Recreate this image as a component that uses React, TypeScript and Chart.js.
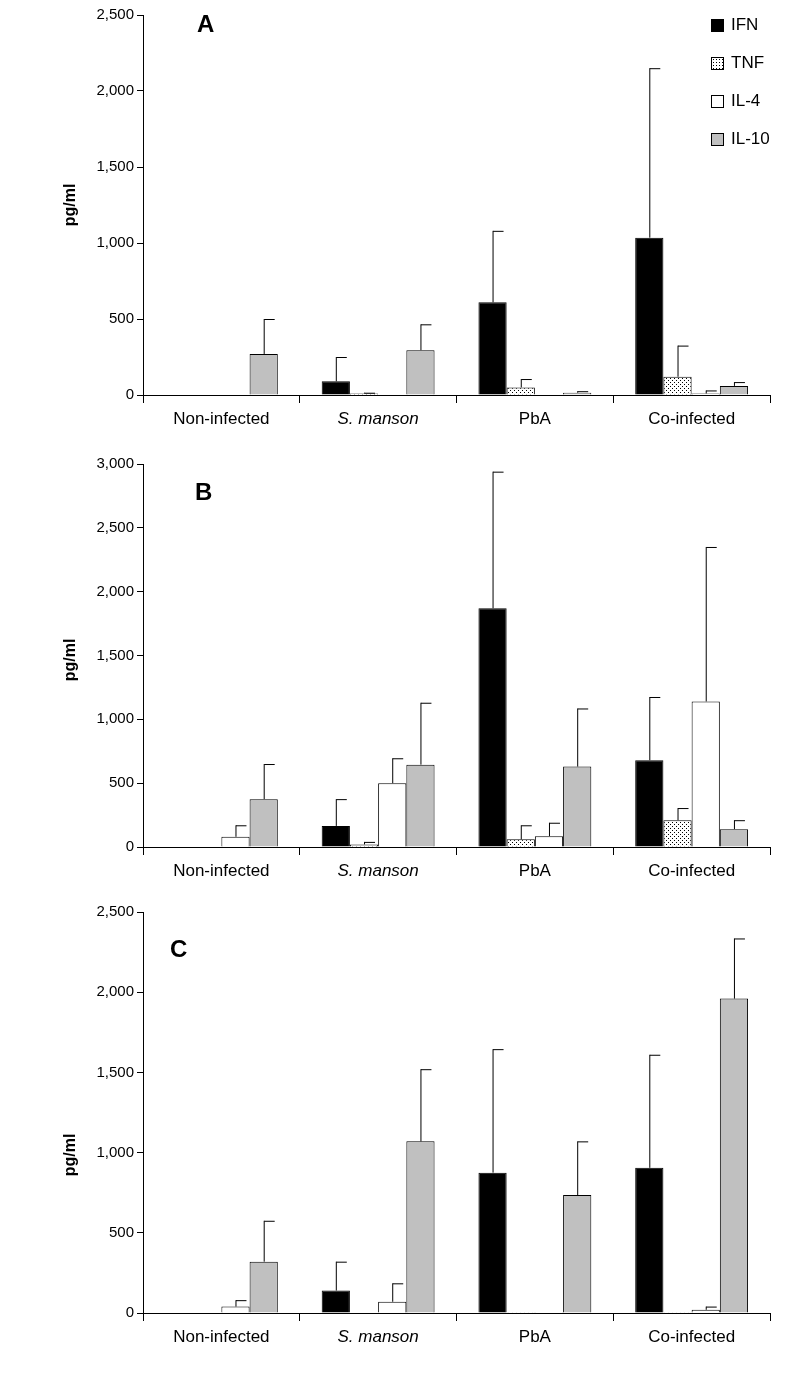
import React, { useEffect, useRef } from "react";
import { Chart, registerables } from "chart.js";
Chart.register(...registerables);

const categories = ["Non-infected", "S. manson", "PbA", "Co-infected"];
const seriesNames = ["IFN", "TNF", "IL-4", "IL-10"];

const A_IFN = [0, 90, 610, 1035];
const A_TNF = [0, 10, 50, 120];
const A_IL4 = [0, 0, 0, 10];
const A_IL10 = [270, 295, 15, 60];
const A_IFN_err = [0, 250, 1080, 2150];
const A_TNF_err = [0, 15, 105, 325];
const A_IL4_err = [0, 0, 0, 30];
const A_IL10_err = [500, 465, 25, 85];

const B_IFN = [0, 165, 1870, 680];
const B_TNF = [0, 20, 60, 210];
const B_IL4 = [80, 500, 85, 1140];
const B_IL10 = [375, 645, 630, 140];
const B_IFN_err = [0, 375, 2940, 1175];
const B_TNF_err = [0, 40, 170, 305];
const B_IL4_err = [170, 695, 190, 2350];
const B_IL10_err = [650, 1130, 1085, 210];

const C_IFN = [0, 140, 875, 905];
const C_TNF = [0, 0, 5, 5];
const C_IL4 = [40, 70, 5, 20];
const C_IL10 = [320, 1070, 735, 1960];
const C_IFN_err = [0, 320, 1645, 1610];
const C_TNF_err = [0, 0, 0, 0];
const C_IL4_err = [80, 185, 0, 40];
const C_IL10_err = [575, 1520, 1070, 2335];

const yTicksA = [0, 500, 1000, 1500, 2000, 2500];
const yTicksB = [0, 500, 1000, 1500, 2000, 2500, 3000];
const yTicksC = [0, 500, 1000, 1500, 2000, 2500];

function dotPattern(): CanvasPattern | string {
  const c = document.createElement("canvas");
  c.width = 4; c.height = 4;
  const g = c.getContext("2d");
  if (!g) return "#ddd";
  g.fillStyle = "#fff"; g.fillRect(0, 0, 4, 4);
  g.fillStyle = "#000"; g.fillRect(0, 0, 1, 1); g.fillRect(2, 2, 1, 1);
  return g.createPattern(c, "repeat") || "#ddd";
}

const errPlugin = {
  id: "errbars",
  afterDatasetsDraw(chart: any) {
    const ctx = chart.ctx;
    const ys = chart.scales.y;
    chart.data.datasets.forEach((ds: any, i: number) => {
      const meta = chart.getDatasetMeta(i);
      meta.data.forEach((bar: any, j: number) => {
        const e = ds.err[j];
        if (!e || e <= ds.data[j]) return;
        const yTop = ys.getPixelForValue(e);
        ctx.save();
        ctx.strokeStyle = "#000"; ctx.lineWidth = 1;
        ctx.beginPath();
        ctx.moveTo(bar.x + 0.5, bar.y);
        ctx.lineTo(bar.x + 0.5, yTop);
        ctx.moveTo(bar.x + 0.5, yTop + 0.5);
        ctx.lineTo(bar.x + 11, yTop + 0.5);
        ctx.stroke();
        ctx.restore();
      });
    });
  },
};

function Panel(props: { vals: number[][]; errs: number[][]; max: number; ticks: number[]; top: number; height: number; padTop: number; xH: number }) {
  const ref = useRef<HTMLCanvasElement>(null);
  useEffect(() => {
    const fills = ["#000", dotPattern(), "#fff", "#c0c0c0"];
    const chart = new Chart(ref.current!, {
      type: "bar",
      data: {
        labels: categories,
        datasets: seriesNames.map((n, i) => ({
          label: n,
          data: props.vals[i],
          err: props.errs[i],
          backgroundColor: fills[i],
          borderColor: "#000",
          borderWidth: 1,
          categoryPercentage: 0.72,
          barPercentage: 1,
        })) as any,
      },
      options: {
        animation: false,
        responsive: false,
        layout: { padding: { top: props.padTop, right: 33, left: 0, bottom: 0 } },
        plugins: { legend: { display: false }, tooltip: { enabled: false } },
        scales: {
          x: {
            grid: { offset: true, drawOnChartArea: false, color: "#000", tickLength: 8 },
            border: { color: "#000" },
            ticks: {
              color: "#000",
              padding: 6,
              font: (c: any) => ({ family: "Arial, Liberation Sans", size: 17, style: c.index === 1 ? "italic" : "normal" }),
            },
            afterFit: (s: any) => { s.height = props.xH; },
          },
          y: {
            min: 0, max: props.max,
            afterBuildTicks: (s: any) => { s.ticks = props.ticks.map((v) => ({ value: v })); },
            grid: { drawOnChartArea: false, color: "#000", tickLength: 6 },
            border: { color: "#000" },
            ticks: { color: "#000", font: { family: "Arial, Liberation Sans", size: 15 } },
            afterFit: (s: any) => { s.width = 143; },
          },
        },
      },
      plugins: [errPlugin],
    });
    return () => chart.destroy();
  }, []);
  return (
    <canvas ref={ref} width={803} height={props.height}
      style={{ position: "absolute", left: 0, top: props.top, width: 803, height: props.height }} />
  );
}

const lbl: React.CSSProperties = { position: "absolute", fontFamily: "Arial, Liberation Sans", fontWeight: "bold", color: "#000" };

export default function App() {
  const fills = ["#000", "radial-gradient(#000 0.6px, #fff 0.9px) 0 0/3px 3px #fff", "#fff", "#c0c0c0"];
  return (
    <div style={{ position: "absolute", left: 0, top: 0, width: 803, height: 1391, background: "#fff" }}>
      <Panel vals={[A_IFN, A_TNF, A_IL4, A_IL10]} errs={[A_IFN_err, A_TNF_err, A_IL4_err, A_IL10_err]} max={2500} ticks={yTicksA} top={0} height={450} padTop={15} xH={55} />
      <Panel vals={[B_IFN, B_TNF, B_IL4, B_IL10]} errs={[B_IFN_err, B_TNF_err, B_IL4_err, B_IL10_err]} max={3000} ticks={yTicksB} top={450} height={450} padTop={14} xH={53} />
      <Panel vals={[C_IFN, C_TNF, C_IL4, C_IL10]} errs={[C_IFN_err, C_TNF_err, C_IL4_err, C_IL10_err]} max={2500} ticks={yTicksC} top={900} height={491} padTop={12} xH={78} />
      <div style={{ ...lbl, left: 197, top: 10, fontSize: 24 }}>A</div>
      <div style={{ ...lbl, left: 195, top: 478, fontSize: 24 }}>B</div>
      <div style={{ ...lbl, left: 170, top: 935, fontSize: 24 }}>C</div>
      {[205, 660, 1155].map((y, i) => (
        <div key={i} style={{ ...lbl, left: 70, top: y, fontSize: 16, transform: "translate(-50%,-50%) rotate(-90deg)" }}>pg/ml</div>
      ))}
      {seriesNames.map((n, i) => (
        <div key={n} style={{ position: "absolute", left: 711, top: 15 + i * 38, display: "flex", alignItems: "center", fontFamily: "Arial, Liberation Sans", fontSize: 17 }}>
          <span style={{ display: "inline-block", width: 11, height: 11, border: "1px solid #000", background: fills[i], marginRight: 7 }} />
          {n}
        </div>
      ))}
    </div>
  );
}
